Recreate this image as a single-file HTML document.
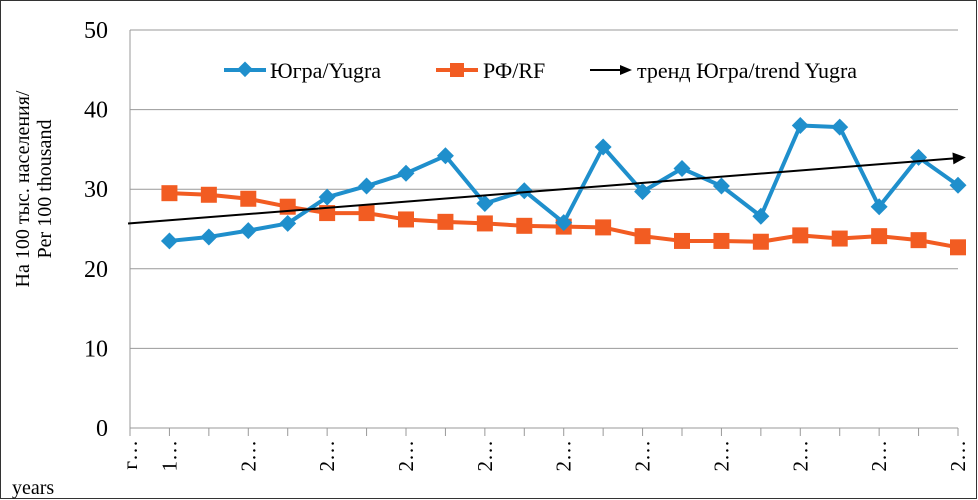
<!DOCTYPE html>
<html><head><meta charset="utf-8"><style>
body{margin:0;background:#fff}
svg{display:block;font-family:"Liberation Serif","Noto Serif CJK SC",serif}
</style></head><body>
<svg id="c" width="978" height="500">
<rect x="0.5" y="0.5" width="976" height="498" fill="#fff" stroke="#333"/>
<g id="grid"></g><g id="axes"></g><g id="series"></g>
<g id="legend">
 <g>
  <line x1="224" y1="70" x2="266" y2="70" stroke="#1f8fcc" stroke-width="4"/>
  <rect x="239" y="64" width="11" height="11" fill="#1f8fcc" transform="rotate(45 245 70)"/>
  <text x="270" y="78" font-size="22">Югра/Yugra</text>
 </g>
 <g>
  <line x1="436" y1="70" x2="478" y2="70" stroke="#f25c22" stroke-width="4"/>
  <rect x="450" y="63" width="14" height="14" fill="#f25c22"/>
  <text x="483" y="78" font-size="22">РФ/RF</text>
 </g>
 <g>
  <line x1="590" y1="70" x2="622" y2="70" stroke="#000" stroke-width="2"/>
  <polygon points="632,70 620,65 620,75" fill="#000"/>
  <text x="637" y="78" font-size="22">тренд Югра/trend Yugra</text>
 </g>
</g>
<text transform="translate(29,189) rotate(-90)" font-size="20" text-anchor="middle"><tspan x="0" y="0">На 100 тыс. населения/</tspan><tspan x="0" y="22">Per 100 thousand</tspan></text>
<text x="12" y="494" font-size="20">years</text>
</svg>
<script>
const categories=["г…","1…","2…","2…","2…","2…","2…","2…","2…","2…","2…","2…","2…","2…","2…","2…","2…","2…","2…","2…","2…","2…"];
const yugra=[null,23.5,24,24.8,25.7,29,30.4,32,34.2,28.2,29.8,25.8,35.3,29.7,32.6,30.4,26.6,38,37.8,27.8,34,30.5];
const rf=[null,29.5,29.3,28.8,27.8,27,27,26.2,25.9,25.7,25.4,25.3,25.2,24.1,23.5,23.5,23.4,24.2,23.8,24.1,23.6,22.7];
const yTicks=[0,10,20,30,40,50];
const NS="http://www.w3.org/2000/svg";
const x0=130,x1=958,yTop=30,yBot=428;
const xs=i=>x0+i*(x1-x0)/(categories.length-1);
const ys=v=>yBot-(v-0)/(50-0)*(yBot-yTop);
function mk(tag,attrs,parent){const e=document.createElementNS(NS,tag);for(const k in attrs)e.setAttribute(k,attrs[k]);document.getElementById(parent).appendChild(e);return e;}
yTicks.forEach(t=>{
 if(t>0){const g=mk('line',{x1:x0,x2:x1,y1:ys(t),y2:ys(t),stroke:'#999','stroke-width':1},'grid');
 
 }
 const l=mk('text',{x:108,y:ys(t)+8,'font-size':24,'text-anchor':'end'},'axes');l.textContent=t;
 
 
});
const ax=mk('line',{x1:x0,x2:x0,y1:yTop,y2:yBot,stroke:'#999'},'axes');


const bx=mk('line',{x1:x0,x2:x1,y1:yBot,y2:yBot,stroke:'#999'},'axes');


categories.forEach((c,i)=>{
 const tk=mk('line',{x1:xs(i),x2:xs(i),y1:yBot,y2:yBot+8,stroke:'#999'},'axes');
 
 
 if(i===0||i%2===1){
  const t=mk('text',{transform:`translate(${xs(i)+7},440) rotate(-90)`,'font-size':21,'text-anchor':'end'},'axes');
  t.textContent=c;
  
  
 }
});
function series(vals,color,marker,name){
 const pts=[];vals.forEach((v,i)=>{if(v!=null)pts.push([xs(i),ys(v)]);});
 const p=mk('polyline',{points:pts.map(p=>p.join(',')).join(' '),fill:'none',stroke:color,'stroke-width':4,'stroke-linejoin':'round'},'series');
 
 
 pts.forEach(([x,y])=>{
  let m;
  if(marker==='d')m=mk('rect',{x:x-6,y:y-6,width:12,height:12,fill:color,transform:`rotate(45 ${x} ${y})`},'series');
  else m=mk('rect',{x:x-8,y:y-8,width:16,height:16,fill:color},'series');
  
  
 });
}
series(rf,'#f25c22','s','rf');
series(yugra,'#1f8fcc','d','yugra');
let n=0,sx=0,sy=0,sxx=0,sxy=0;
yugra.forEach((v,i)=>{if(v!=null){n++;sx+=i;sy+=v;sxx+=i*i;sxy+=i*v;}});
const b=(n*sxy-sx*sy)/(n*sxx-sx*sx),a=(sy-b*sx)/n;
const ia=-0.05,ib=21.2;
const tl=mk('line',{x1:xs(ia),y1:ys(a+b*ia),x2:xs(ib)-10,y2:ys(a+b*(ib-0.25)),stroke:'#000','stroke-width':2},'series');


const ex=xs(ib),ey=ys(a+b*ib),ang=Math.atan2(ys(a+b*ib)-ys(a+b*(ib-1)),xs(ib)-xs(ib-1))*180/Math.PI;
const ah=mk('polygon',{points:`${ex},${ey} ${ex-13},${ey-6} ${ex-13},${ey+6}`,fill:'#000',transform:`rotate(${ang} ${ex} ${ey})`},'series');


</script>
</body></html>
